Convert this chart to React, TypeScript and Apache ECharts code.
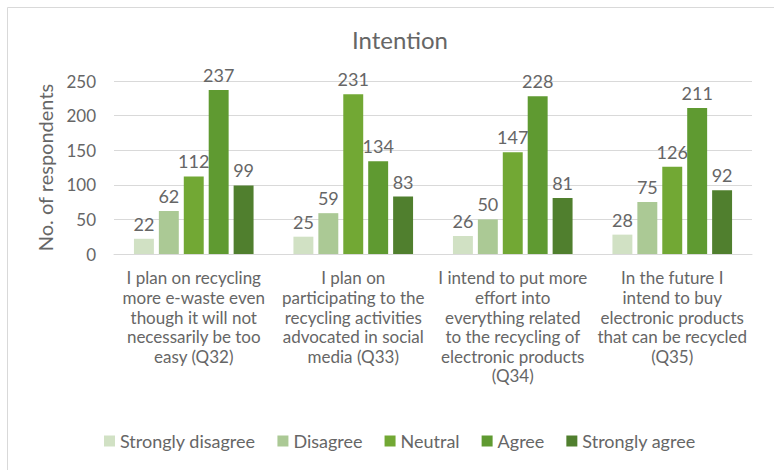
import React, { useEffect, useRef } from "react";
import * as echarts from "echarts";

const categories = [
  "I plan on recycling\nmore e-waste even\nthough it will not\nnecessarily be too\neasy (Q32)",
  "I plan on\nparticipating to the\nrecycling activities\nadvocated in social\nmedia (Q33)",
  "I intend to put more\neffort into\neverything related\nto the recycling of\nelectronic products\n(Q34)",
  "In the future I\nintend to buy\nelectronic products\nthat can be recycled\n(Q35)",
];
const seriesNames = ["Strongly disagree", "Disagree", "Neutral", "Agree", "Strongly agree"];
const stronglyDisagree = [22, 25, 26, 28];
const disagree = [62, 59, 50, 75];
const neutral = [112, 231, 147, 126];
const agree = [237, 134, 228, 211];
const stronglyAgree = [99, 83, 81, 92];
const colors = ["#d1e1c4", "#abc995", "#72a834", "#5f9a31", "#507f2e"];
const yTicks = { min: 0, max: 250, interval: 50 };

export default function App() {
  const ref = useRef<HTMLDivElement>(null);
  useEffect(() => {
    if (!ref.current) return;
    const chart = echarts.init(ref.current, null, { renderer: "svg" });
    const font = "Lato, 'Liberation Sans', sans-serif";
    const txt = "#666666";
    const values = [stronglyDisagree, disagree, neutral, agree, stronglyAgree];
    chart.setOption({
      animation: false,
      textStyle: { fontFamily: font },
      title: {
        text: "Intention",
        left: 395,
        textAlign: "center",
        top: 22,
        textStyle: { fontFamily: font, fontSize: 24, fontWeight: "normal", color: txt },
      },
      graphic: [
        {
          type: "rect",
          shape: { x: 7.5, y: 7.5, width: 800, height: 500 },
          style: { fill: "none", stroke: "#d9d9d9", lineWidth: 1 },
          silent: true,
        },
      ],
      legend: {
        left: 99,
        top: 427,
        itemWidth: 11,
        itemHeight: 11,
        itemGap: 22,
        itemTextGap: 5,
        icon: "rect",
        textStyle: { fontFamily: font, fontSize: 18, color: txt },
        data: seriesNames,
      },
      grid: { left: 114, right: 22, top: 81, bottom: 216 },
      xAxis: {
        type: "category",
        data: categories,
        axisTick: { show: false },
        axisLine: { lineStyle: { color: "#d9d9d9" } },
        axisLabel: {
          interval: 0,
          fontFamily: font,
          fontSize: 17,
          lineHeight: 19.6,
          color: txt,
          margin: 14,
        },
      },
      yAxis: {
        type: "value",
        min: yTicks.min,
        max: yTicks.max,
        interval: yTicks.interval,
        name: "No. of respondents",
        nameLocation: "middle",
        nameGap: 59,
        nameTextStyle: { fontFamily: font, fontSize: 20, color: txt },
        axisLine: { show: false },
        axisTick: { show: false },
        axisLabel: { fontFamily: font, fontSize: 17, color: txt, margin: 18 },
        splitLine: { lineStyle: { color: "#d9d9d9" } },
      },
      series: seriesNames.map((name, i) => ({
        name,
        type: "bar",
        data: values[i],
        barGap: "25%",
        barCategoryGap: "25%",
        itemStyle: { color: colors[i] },
        label: {
          show: true,
          position: "top",
          distance: 6,
          fontFamily: font,
          fontSize: 18,
          color: txt,
        },
      })),
    });
    return () => chart.dispose();
  }, []);
  return <div ref={ref} style={{ width: 774, height: 470, position: "absolute", left: 0, top: 0, background: "#fff" }} />;
}
